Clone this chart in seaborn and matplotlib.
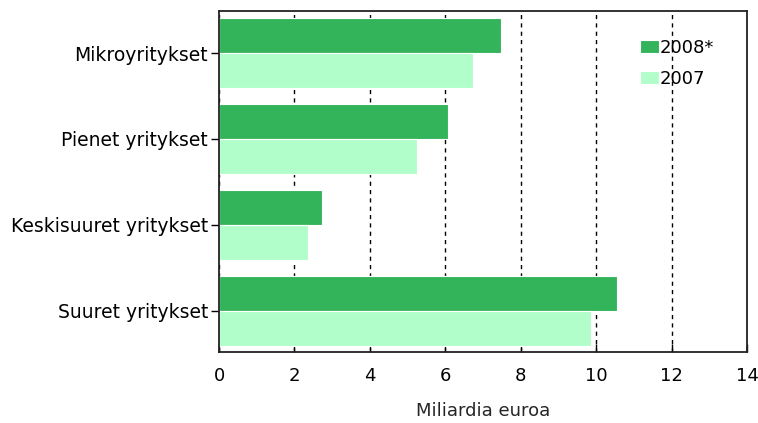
import matplotlib
matplotlib.use("Agg")
import matplotlib.pyplot as plt
import pandas as pd
import seaborn as sns

categories = ["Mikroyritykset", "Pienet yritykset", "Keskisuuret yritykset", "Suuret yritykset"]
years = ["2008*", "2007"]
values_2008 = [7.47, 6.07, 2.74, 10.55]
values_2007 = [6.74, 5.26, 2.36, 9.87]
xticks = [0, 2, 4, 6, 8, 10, 12, 14]
colors = {"2008*": "#33b45a", "2007": "#b2fecb"}

df = pd.DataFrame({
    "kategoria": categories * 2,
    "vuosi": [years[0]] * 4 + [years[1]] * 4,
    "arvo": values_2008 + values_2007,
})

sns.set_style("white")
plt.rcParams["font.family"] = ["DejaVu Sans"]
plt.rcParams["text.color"] = "black"
plt.rcParams["xtick.color"] = "black"
plt.rcParams["ytick.color"] = "black"

fig = plt.figure(figsize=(7.58, 4.23), dpi=100)
ax = fig.add_axes([219 / 758, 1 - 352 / 423, (747 - 219) / 758, (352 - 11) / 423])

sns.barplot(data=df, y="kategoria", x="arvo", hue="vuosi", hue_order=years,
            order=categories, palette=colors, orient="h", width=0.82,
            saturation=1, edgecolor="white", linewidth=0.8, ax=ax, zorder=2)

ax.set_xlim(0, 14)
ax.set_ylim(3.48, -0.49)
ax.set_xticks(xticks)
ax.set_xticklabels([str(t) for t in xticks], fontsize=13)
ax.tick_params(axis="y", which="major", labelsize=13.5, direction="out", length=6,
               width=1, left=True, pad=2, color="black")
ax.tick_params(axis="x", which="major", direction="in", length=6, width=1,
               bottom=True, pad=11, color="black")
ax.xaxis.grid(True, color="black", linestyle=(0, (3, 3)), linewidth=1)
ax.set_axisbelow(True)
ax.set_ylabel("")
ax.set_xlabel("Miliardia euroa", fontsize=13, labelpad=12)
for s in ax.spines.values():
    s.set_color("#222222")
    s.set_linewidth(1.3)
    s.set_zorder(5)

leg = ax.legend(loc="upper left", bbox_to_anchor=((640 - 219) / 528, 1 - (39 - 11) / 341),
                frameon=False, fontsize=13, handlelength=1.05, handleheight=0.75,
                handletextpad=0.05, labelspacing=0.7, borderpad=0, borderaxespad=0)

fig.savefig("out.png", dpi=100)
